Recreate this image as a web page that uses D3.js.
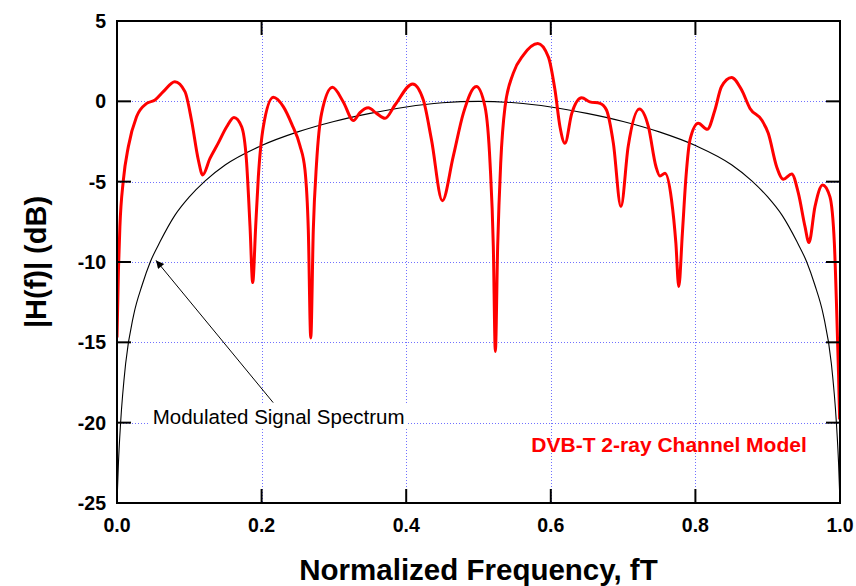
<!DOCTYPE html>
<html><head><meta charset="utf-8">
<script src="https://cdn.jsdelivr.net/npm/d3@7"></script>
<style>body{margin:0;background:#fff} svg{display:block}</style>
</head><body>
<svg id="chart" width="856" height="586"></svg>
<script>
// ---- data ----
const xTicks = [0, 0.2, 0.4, 0.6, 0.8, 1.0];
const xTickLabels = ["0.0", "0.2", "0.4", "0.6", "0.8", "1.0"];
const yTicks = [5, 0, -5, -10, -15, -20, -25];
const yTickLabels = ["5", "0", "-5", "-10", "-15", "-20", "-25"];

const channelF = [0.000,0.002,0.004,0.0088,0.0157,0.027,0.041,0.0526,0.064,0.080,0.094,0.103,0.1125,0.1185,0.1286,0.140,0.1517,0.1618,0.1724,0.179,0.184,0.1877,0.1918,0.1955,0.2024,0.2162,0.230,0.2416,0.253,0.260,0.2646,0.268,0.2715,0.276,0.283,0.298,0.313,0.327,0.336,0.3476,0.359,0.3707,0.3845,0.409,0.4237,0.435,0.450,0.465,0.479,0.497,0.509,0.516,0.5205,0.5233,0.5265,0.5307,0.5367,0.548,0.562,0.582,0.5966,0.6058,0.6127,0.6196,0.629,0.6427,0.654,0.668,0.677,0.6865,0.697,0.707,0.7225,0.735,0.7455,0.751,0.758,0.767,0.773,0.777,0.782,0.787,0.7925,0.804,0.8165,0.827,0.836,0.850,0.864,0.8755,0.8917,0.9008,0.9124,0.9216,0.9332,0.9424,0.9516,0.957,0.9654,0.976,0.986,0.9922,0.9954,0.998,0.9995];
const channelDb = [-14.7,-10.5,-7.8,-4.9,-2.82,-0.96,-0.13,0.08,0.6,1.22,0.6,-1.16,-3.65,-4.58,-3.55,-2.6,-1.58,-1.0,-1.58,-3.65,-7.8,-11.28,-7.8,-4.69,-1.58,0.25,-0.33,-1.4,-2.75,-4.27,-8.0,-14.73,-8.0,-3.85,-0.75,0.87,-0.04,-1.2,-0.7,-0.4,-0.75,-1.06,-0.23,1.08,0.08,-2.4,-6.18,-3.44,-0.75,0.92,-0.34,-3.86,-9.05,-15.57,-9.05,-3.86,-0.34,1.74,2.88,3.6,2.77,0.7,-1.58,-2.61,-0.75,0.22,-0.03,-0.13,-0.54,-2.6,-6.55,-2.82,-0.48,-1.58,-4.07,-4.65,-4.48,-6.14,-8.83,-11.53,-8.2,-4.69,-2.4,-1.37,-1.74,-0.54,0.91,1.49,0.7,-0.44,-1.16,-1.99,-4.07,-4.85,-4.52,-5.72,-7.8,-8.79,-6.55,-5.2,-5.93,-8.83,-13.0,-17.0,-19.8];

const spectrumF = [0,0.002,0.005,0.012,0.023,0.035,0.046,0.06,0.08,0.1,0.122,0.15,0.2,0.25,0.3,0.35,0.4,0.45,0.5,0.55,0.6,0.65,0.7,0.75,0.8,0.85,0.878,0.9,0.92,0.94,0.954,0.965,0.977,0.988,0.995,0.998,1.0];
const spectrumDb = [-25,-22.5,-20,-16.3,-13.3,-11.4,-10,-8.7,-7.1,-5.95,-4.95,-3.95,-2.75,-1.9,-1.25,-0.75,-0.35,-0.09,0,-0.09,-0.35,-0.75,-1.25,-1.9,-2.75,-3.95,-4.95,-5.95,-7.1,-8.7,-10,-11.4,-13.3,-16.3,-20,-22.5,-25];

const xTitle = "Normalized Frequency, fT";
const yTitle = "|H(f)| (dB)";
const spectrumLabel = "Modulated Signal Spectrum";
const channelLabel = "DVB-T 2-ray Channel Model";
const arrowTail = [0.216, -18.75];
const arrowHead = [0.054, -9.9];
const spectrumLabelPos = [0.0494, -20.07];
const channelLabelPos = [0.954, -21.8];

// ---- layout ----
const svg = d3.select("#chart");
const L = 117, R = 840, T = 21, B = 503;
const FONT = "'Liberation Sans', Arial, Helvetica, sans-serif";
const x = d3.scaleLinear().domain([0, 1]).range([L, R]);
const y = d3.scaleLinear().domain([-25, 5]).range([B, T]);

svg.append("defs").append("clipPath").attr("id", "clip")
  .append("rect").attr("x", L).attr("y", T).attr("width", R - L).attr("height", B - T);
svg.select("defs").append("marker").attr("id", "arr")
  .attr("viewBox", "0 0 10 10").attr("refX", 10).attr("refY", 5)
  .attr("markerWidth", 12).attr("markerHeight", 8).attr("markerUnits", "userSpaceOnUse")
  .attr("orient", "auto")
  .append("path").attr("d", "M0,0 L10,5 L0,10 z").attr("fill", "#000");

// grid
const grid = svg.append("g").attr("stroke", "#7070ff").attr("stroke-width", 1)
  .attr("stroke-dasharray", "1,2");
grid.selectAll(".gx").data(xTicks.filter(d => d > 0 && d < 1)).join("line")
  .attr("x1", d => Math.round(x(d)) + 0.5).attr("x2", d => Math.round(x(d)) + 0.5)
  .attr("y1", T).attr("y2", B);
grid.selectAll(".gy").data(yTicks.filter(d => d < 5 && d > -25)).join("line")
  .attr("y1", d => Math.round(y(d)) + 0.5).attr("y2", d => Math.round(y(d)) + 0.5)
  .attr("x1", L).attr("x2", R);

// curves
const plot = svg.append("g").attr("clip-path", "url(#clip)");
const spectrum = spectrumF.map((f, i) => [f, spectrumDb[i]]);
const channel = channelF.map((f, i) => [f, channelDb[i]]);
const line = d3.line().x(d => x(d[0])).y(d => y(d[1])).curve(d3.curveMonotoneX);
plot.append("path").attr("d", line(spectrum)).attr("fill", "none")
  .attr("stroke", "#000").attr("stroke-width", 1.1);
plot.append("path").attr("d", line(channel)).attr("fill", "none")
  .attr("stroke", "#ff0000").attr("stroke-width", 3).attr("stroke-linejoin", "round");

// annotation
const ann = svg.append("g");
const annText = ann.append("text").attr("x", x(spectrumLabelPos[0])).attr("y", y(spectrumLabelPos[1]))
  .attr("font-family", FONT).attr("font-size", 20.5).attr("fill", "#000").text(spectrumLabel);
const bb = annText.node().getBBox();
ann.insert("rect", "text").attr("x", bb.x - 3).attr("y", bb.y).attr("width", bb.width + 6)
  .attr("height", bb.height).attr("fill", "#fff");
svg.append("line").attr("x1", x(arrowTail[0])).attr("y1", y(arrowTail[1]))
  .attr("x2", x(arrowHead[0])).attr("y2", y(arrowHead[1]))
  .attr("stroke", "#000").attr("stroke-width", 1).attr("marker-end", "url(#arr)");

svg.append("text").attr("x", x(channelLabelPos[0])).attr("y", y(channelLabelPos[1]))
  .attr("text-anchor", "end").attr("font-family", FONT).attr("font-weight", "bold")
  .attr("font-size", 21).attr("fill", "#ff0000").text(channelLabel);

// frame
svg.append("rect").attr("x", L).attr("y", T).attr("width", R - L).attr("height", B - T)
  .attr("fill", "none").attr("stroke", "#000").attr("stroke-width", 2);

// ticks
const tk = svg.append("g").attr("stroke", "#000").attr("stroke-width", 2);
const TL = 14;
xTicks.forEach(d => {
  const px = x(d);
  tk.append("line").attr("x1", px).attr("x2", px).attr("y1", B).attr("y2", B - TL);
  tk.append("line").attr("x1", px).attr("x2", px).attr("y1", T).attr("y2", T + TL);
});
yTicks.forEach(d => {
  const py = y(d);
  tk.append("line").attr("y1", py).attr("y2", py).attr("x1", L).attr("x2", L + TL);
  tk.append("line").attr("y1", py).attr("y2", py).attr("x1", R).attr("x2", R - TL);
});

// tick labels
svg.append("g").selectAll("text").data(xTicks).join("text")
  .attr("x", d => x(d)).attr("y", B + 29).attr("text-anchor", "middle")
  .attr("font-family", FONT).attr("font-weight", "bold").attr("font-size", 19.5)
  .text((d, i) => xTickLabels[i]);
svg.append("g").selectAll("text").data(yTicks).join("text")
  .attr("x", L - 11).attr("y", d => y(d) + 7).attr("text-anchor", "end")
  .attr("font-family", FONT).attr("font-weight", "bold").attr("font-size", 19.5)
  .text((d, i) => yTickLabels[i]);

// titles
svg.append("text").attr("x", (L + R) / 2).attr("y", 580).attr("text-anchor", "middle")
  .attr("font-family", FONT).attr("font-weight", "bold").attr("font-size", 29.5).text(xTitle);
svg.append("text").attr("transform", `translate(46,${(T + B) / 2}) rotate(-90)`)
  .attr("text-anchor", "middle").attr("font-family", FONT).attr("font-weight", "bold")
  .attr("font-size", 29).text(yTitle);
</script>
</body></html>
